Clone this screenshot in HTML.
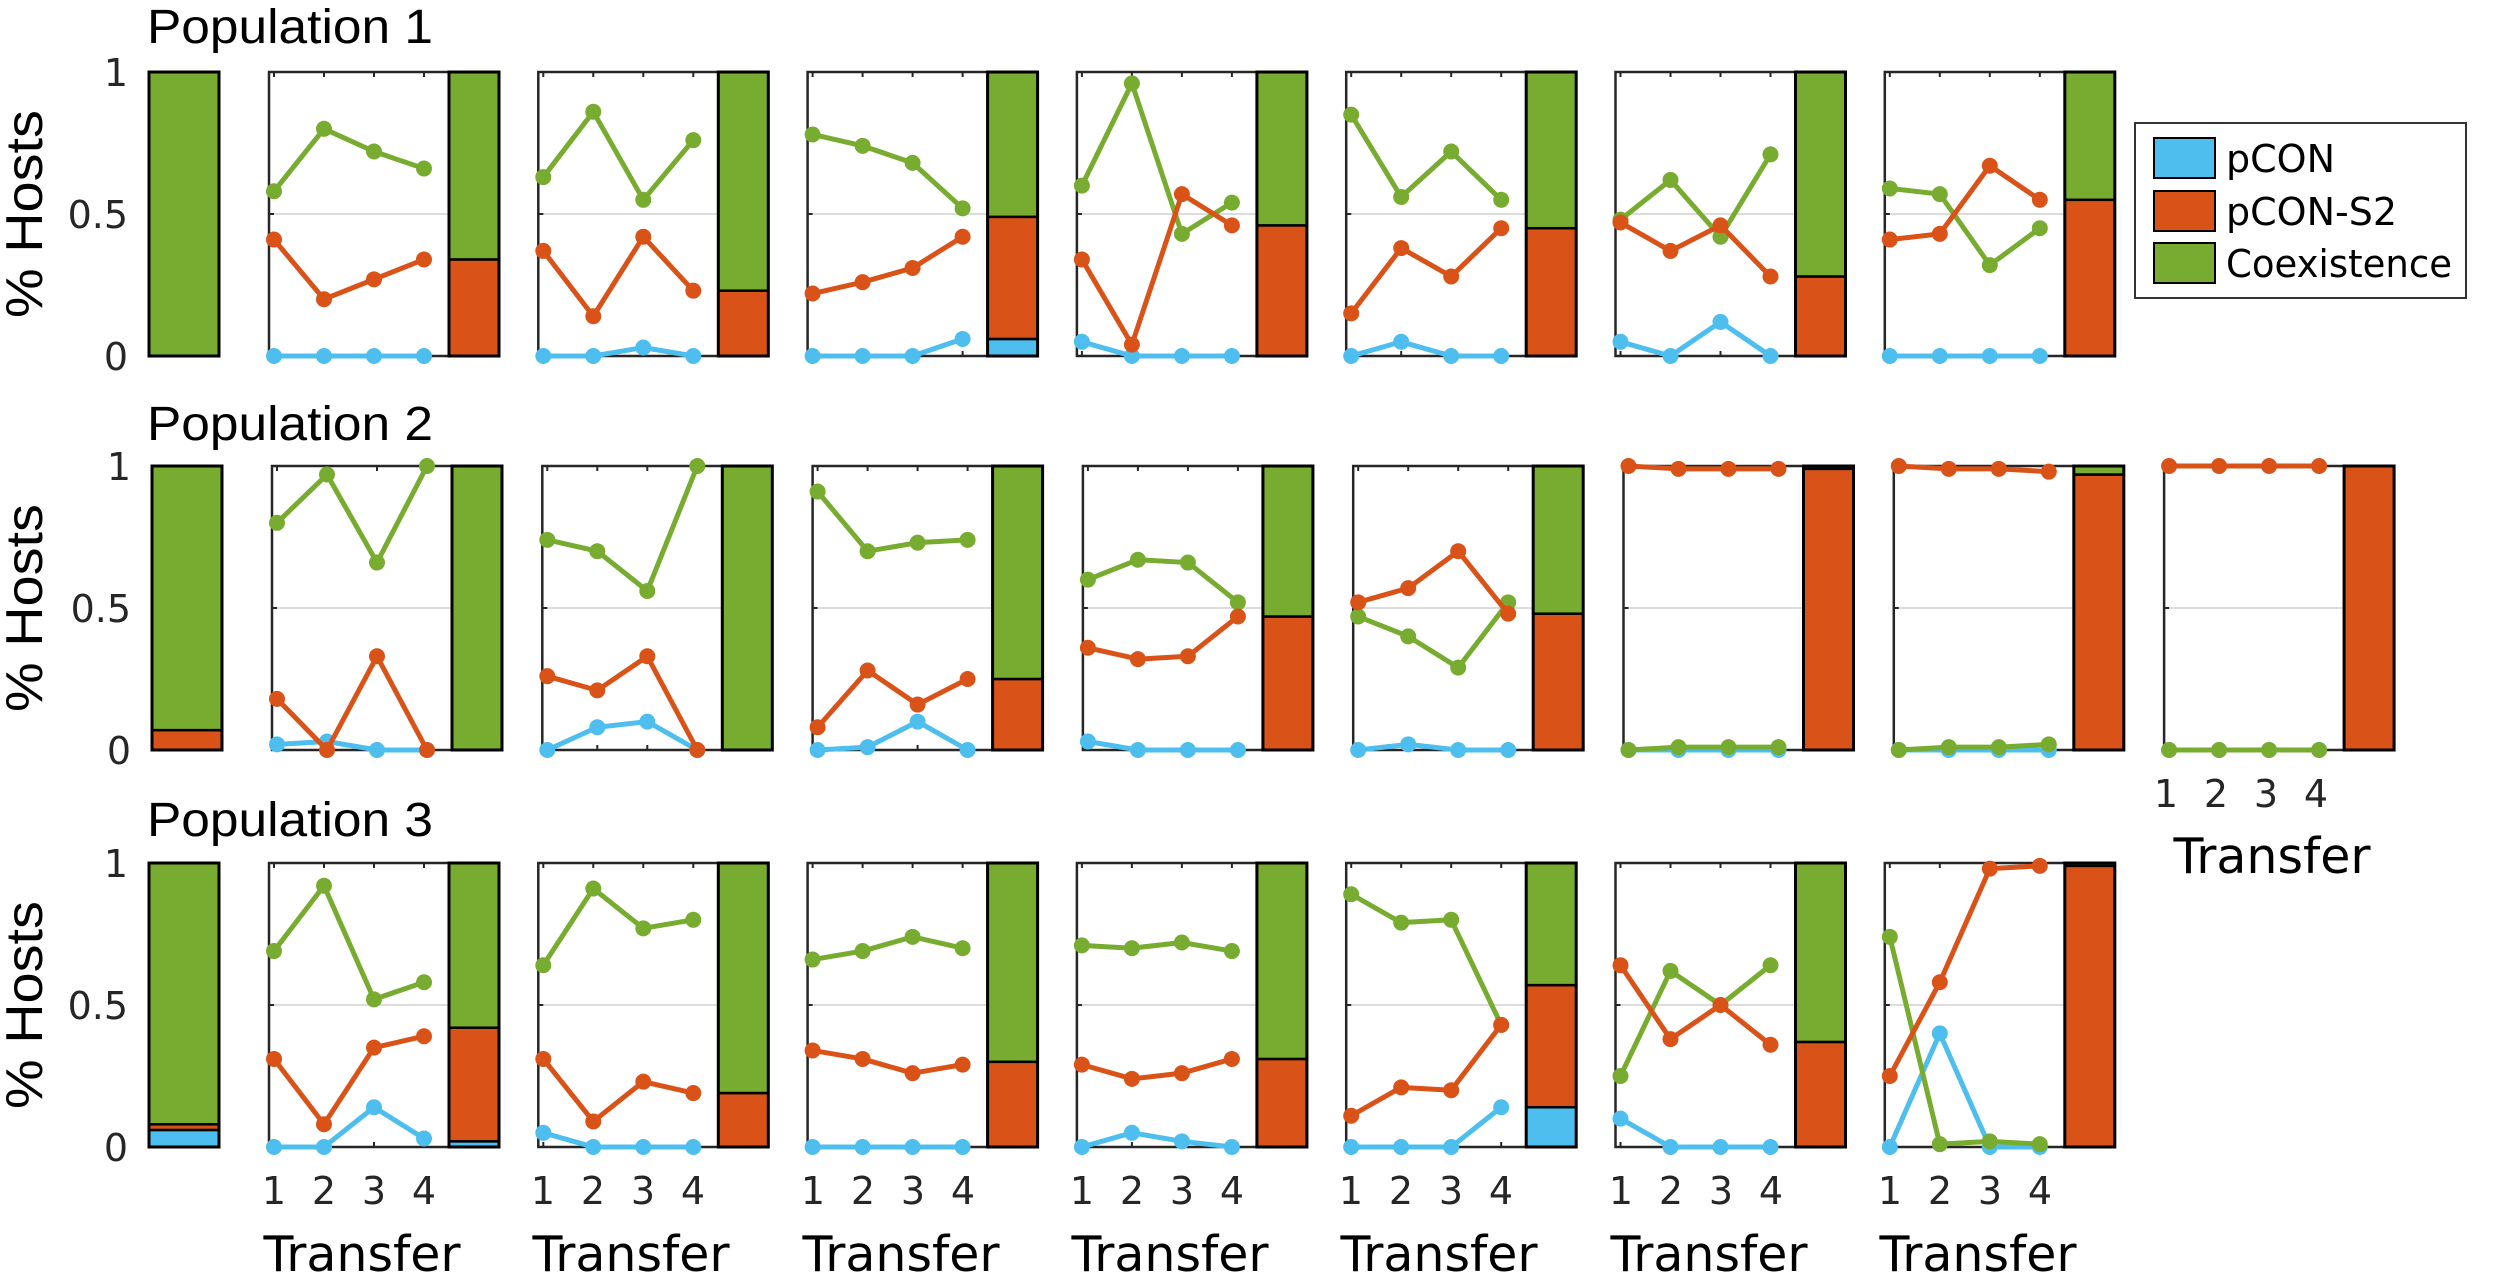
<!DOCTYPE html>
<html><head><meta charset="utf-8"><style>
html,body{margin:0;padding:0;background:#fff;}
svg{display:block;}
.t{font-family:"DejaVu Sans",sans-serif;font-size:38px;fill:#262626;}
.ti{font-family:"Liberation Sans",sans-serif;font-size:48px;fill:#000;}
.xl{font-family:"DejaVu Sans",sans-serif;font-size:49px;fill:#000;}
.yl{font-family:"Liberation Sans",sans-serif;font-size:52px;fill:#000;}
.lg{font-family:"DejaVu Sans",sans-serif;font-size:38px;fill:#000;}
</style></head><body>
<svg id="s" width="2500" height="1275" xmlns="http://www.w3.org/2000/svg">
<rect width="2500" height="1275" fill="#fff"/>
<g id="g"></g>
<text class="ti" x="147" y="43" textLength="286" lengthAdjust="spacingAndGlyphs">Population 1</text>
<text class="ti" x="147" y="440" textLength="286" lengthAdjust="spacingAndGlyphs">Population 2</text>
<text class="ti" x="147" y="836" textLength="286" lengthAdjust="spacingAndGlyphs">Population 3</text>
<text class="yl" transform="translate(42,214) rotate(-90)" text-anchor="middle" textLength="208" lengthAdjust="spacingAndGlyphs">% Hosts</text>
<text class="yl" transform="translate(42,608) rotate(-90)" text-anchor="middle" textLength="208" lengthAdjust="spacingAndGlyphs">% Hosts</text>
<text class="yl" transform="translate(42,1005) rotate(-90)" text-anchor="middle" textLength="208" lengthAdjust="spacingAndGlyphs">% Hosts</text>
<g class="t" text-anchor="end">
<text x="128" y="86">1</text><text x="128" y="228">0.5</text><text x="128" y="370">0</text>
<text x="131" y="480">1</text><text x="131" y="622">0.5</text><text x="131" y="764">0</text>
<text x="128" y="877">1</text><text x="128" y="1019">0.5</text><text x="128" y="1161">0</text>
</g>
<g class="t" text-anchor="middle">
<text x="274" y="1204">1</text><text x="324" y="1204">2</text><text x="374" y="1204">3</text><text x="424" y="1204">4</text>
<text x="543" y="1204">1</text><text x="593" y="1204">2</text><text x="643" y="1204">3</text><text x="693" y="1204">4</text>
<text x="813" y="1204">1</text><text x="863" y="1204">2</text><text x="913" y="1204">3</text><text x="963" y="1204">4</text>
<text x="1082" y="1204">1</text><text x="1132" y="1204">2</text><text x="1182" y="1204">3</text><text x="1232" y="1204">4</text>
<text x="1351" y="1204">1</text><text x="1401" y="1204">2</text><text x="1451" y="1204">3</text><text x="1501" y="1204">4</text>
<text x="1621" y="1204">1</text><text x="1671" y="1204">2</text><text x="1721" y="1204">3</text><text x="1771" y="1204">4</text>
<text x="1890" y="1204">1</text><text x="1940" y="1204">2</text><text x="1990" y="1204">3</text><text x="2040" y="1204">4</text>
<text x="2166" y="807">1</text><text x="2216" y="807">2</text><text x="2266" y="807">3</text><text x="2316" y="807">4</text>
</g>
<g class="xl" text-anchor="middle">
<text x="362" y="1271">Transfer</text>
<text x="631" y="1271">Transfer</text>
<text x="901" y="1271">Transfer</text>
<text x="1170" y="1271">Transfer</text>
<text x="1439" y="1271">Transfer</text>
<text x="1709" y="1271">Transfer</text>
<text x="1978" y="1271">Transfer</text>
<text x="2272" y="873">Transfer</text>
</g>
<rect x="2135" y="123" width="331" height="175" fill="#fff" stroke="#333" stroke-width="2"/>
<rect x="2154" y="138" width="61" height="40" fill="#4DBEEE" stroke="#000" stroke-width="2"/>
<rect x="2154" y="191" width="61" height="40" fill="#D95319" stroke="#000" stroke-width="2"/>
<rect x="2154" y="243" width="61" height="40" fill="#77AC30" stroke="#000" stroke-width="2"/>
<text class="lg" x="2226" y="172">pCON</text>
<text class="lg" x="2226" y="225">pCON-S2</text>
<text class="lg" x="2226" y="277" textLength="226" lengthAdjust="spacingAndGlyphs">Coexistence</text>
</svg>
<script>
const B="#4DBEEE",R="#D95319",G="#77AC30";
const rows=[
{top:72,h:284,ox:0,p:269.3,b0:[0,0],P:[
[[.58,.80,.72,.66],[.41,.20,.27,.34],[0,0,0,0],[0,.34]],
[[.63,.86,.55,.76],[.37,.14,.42,.23],[0,0,.03,0],[0,.23]],
[[.78,.74,.68,.52],[.22,.26,.31,.42],[0,0,0,.06],[.06,.43]],
[[.60,.96,.43,.54],[.34,.04,.57,.46],[.05,0,0,0],[0,.46]],
[[.85,.56,.72,.55],[.15,.38,.28,.45],[0,.05,0,0],[0,.45]],
[[.48,.62,.42,.71],[.47,.37,.46,.28],[.05,0,.12,0],[0,.28]],
[[.59,.57,.32,.45],[.41,.43,.67,.55],[0,0,0,0],[0,.55]]]},
{top:466,h:284,ox:3,p:270.3,b0:[0,.07],P:[
[[.80,.97,.66,1],[.18,0,.33,0],[.02,.03,0,0],[0,0]],
[[.74,.70,.56,1],[.26,.21,.33,0],[0,.08,.10,0],[0,0]],
[[.91,.70,.73,.74],[.08,.28,.16,.25],[0,.01,.10,0],[0,.25]],
[[.60,.67,.66,.52],[.36,.32,.33,.47],[.03,0,0,0],[0,.47]],
[[.47,.40,.29,.52],[.52,.57,.70,.48],[0,.02,0,0],[0,.48]],
[[0,.01,.01,.01],[1,.99,.99,.99],[0,0,0,0],[0,.99]],
[[0,.01,.01,.02],[1,.99,.99,.98],[0,0,0,0],[0,.97]],
[[0,0,0,0],[1,1,1,1],[0,0,0,0],[0,1]]]},
{top:863,h:284,ox:0,p:269.3,b0:[.06,.02],P:[
[[.69,.92,.52,.58],[.31,.08,.35,.39],[0,0,.14,.03],[.02,.40]],
[[.64,.91,.77,.80],[.31,.09,.23,.19],[.05,0,0,0],[0,.19]],
[[.66,.69,.74,.70],[.34,.31,.26,.29],[0,0,0,0],[0,.30]],
[[.71,.70,.72,.69],[.29,.24,.26,.31],[0,.05,.02,0],[0,.31]],
[[.89,.79,.80,.43],[.11,.21,.20,.43],[0,0,0,.14],[.14,.43]],
[[.25,.62,.50,.64],[.64,.38,.50,.36],[.10,0,0,0],[0,.37]],
[[.74,.01,.02,.01],[.25,.58,.98,.99],[0,.40,0,0],[0,.99]]]}];
const ns="http://www.w3.org/2000/svg",g=document.getElementById("g");
function el(t,a){const e=document.createElementNS(ns,t);for(const k in a)e.setAttribute(k,a[k]);g.appendChild(e);return e;}
function bar(x,w,top,h,b,r){
 const y0=top+h;let y=y0;
 const segs=[[b,B],[r,R],[1-b-r,G]];
 for(const [v,c] of segs){if(v<=0.0005)continue;const hh=v*h;el("rect",{x:x,y:y-hh,width:w,height:hh,fill:c,stroke:"#000","stroke-width":2.5});y-=hh;}
 el("rect",{x:x,y:top,width:w,height:h,fill:"none",stroke:"#000","stroke-width":3});
}
for(const r of rows){
 const T=r.top,H=r.h;
 bar(149+r.ox,70,T,H,r.b0[0],r.b0[1]);
 r.P.forEach((pd,k)=>{
  const L=269+r.ox+r.p*k;
  el("line",{x1:L,y1:T+H/2,x2:L+180,y2:T+H/2,stroke:"#dcdcdc","stroke-width":2});
  el("path",{d:`M${L+180},${T}H${L}V${T+H}H${L+180}`,fill:"none",stroke:"#262626","stroke-width":2.5});
  for(let i=0;i<4;i++){const x=L+5+50*i;
   el("line",{x1:x,y1:T,x2:x,y2:T+5,stroke:"#262626","stroke-width":2});
   el("line",{x1:x,y1:T+H,x2:x,y2:T+H-5,stroke:"#262626","stroke-width":2});}
  el("line",{x1:L,y1:T+H/2,x2:L+5,y2:T+H/2,stroke:"#262626","stroke-width":2});
  bar(L+180,50,T,H,pd[3][0],pd[3][1]);
  for(const [vals,c] of [[pd[2],B],[pd[0],G],[pd[1],R]]){
   const pts=vals.map((v,i)=>[L+5+50*i,T+H*(1-v)]);
   el("polyline",{points:pts.map(p=>p.join(",")).join(" "),fill:"none",stroke:c,"stroke-width":5,"stroke-linejoin":"round"});
   for(const p of pts)el("circle",{cx:p[0],cy:p[1],r:8,fill:c});
  }
 });
}
</script>
</body></html>
